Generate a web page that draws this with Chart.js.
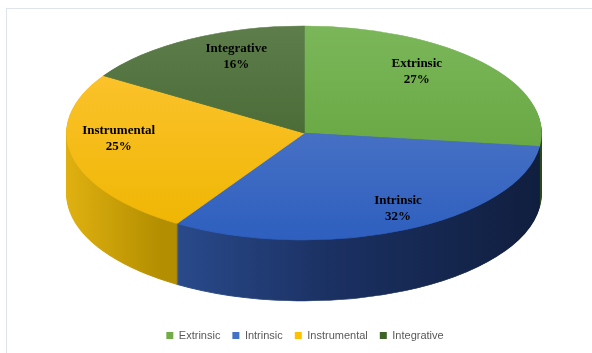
<!DOCTYPE html>
<html>
<head>
<meta charset="utf-8">
<script src="https://cdn.jsdelivr.net/npm/chart.js@4.4.1/dist/chart.umd.min.js"></script>
<style>
  html, body { margin: 0; padding: 0; background: #fff; }
  #wrap { position: relative; width: 592px; height: 353px; overflow: hidden; }
  #moldura { position: absolute; left: 6px; top: 8px; width: 640px; height: 400px;
    border-left: 1px solid #dfe4ea; border-top: 1px solid #dfe4ea; }
  canvas { position: absolute; left: 0; top: 0; }
</style>
</head>
<body>
<div id="wrap">
  <div id="moldura"></div>
  <canvas id="grafico" width="592" height="353"></canvas>
</div>
<script>
// Dados do gráfico
const categorias = ['Extrinsic', 'Intrinsic', 'Instrumental', 'Integrative'];
const valores = [27, 32, 25, 16];

// Cores (legenda, topo e lateral de cada fatia)
const coresBase = ['#70ad47', '#4472c4', '#ffc000', '#3e6327'];
const coresTopo = [
  ['#7bb75a', '#5b9d33'],
  ['#5d81c9', '#2e5fbf'],
  ['#ffc638', '#eeb500'],
  ['#5d7e4b', '#3a5a24']
];
const coresLado = [
  [[0, '#2f5220'], [1, '#2a4a1c']],
  [[0.15, '#2d5095'], [0.55, '#1b3163'], [1, '#101e3e']],
  [[0, '#dfb010'], [0.2, '#b38e00']],
  [[0, '#2e4a1e'], [1, '#2e4a1e']]
];

// Geometria da pizza 3D (elipse na tela)
const centroX = 304, centroY = 133, raioX = 237, raioY = 107, espessura = 61;
// posição dos rótulos (imita a perspectiva do original)
const rotuloY0 = 117, rotuloCima = 90, rotuloBaixo = 131;

const total = valores.reduce((a, b) => a + b, 0);

// Plugin que desenha os arcos do Chart.js achatados e com espessura
const pizza3D = {
  id: 'pizza3D',
  beforeDatasetsDraw(chart) {
    const ctx = chart.ctx;
    const arcos = chart.getDatasetMeta(0).data;
    if (!arcos.length) return false;
    const { x, y, outerRadius: r } = arcos[0].getProps(['x', 'y', 'outerRadius'], true);
    const sx = raioX / r, sy = raioY / r;

    const aplicar = (dy) => {
      ctx.translate(centroX, centroY + dy);
      ctx.scale(sx, sy);
      ctx.translate(-x, -y);
    };
    const desenhar = (arco, cor) => {
      const orig = arco.options;
      arco.options = Object.assign({}, orig, { backgroundColor: cor, borderColor: cor, borderWidth: 1 });
      arco.draw(ctx);
      arco.options = orig;
    };

    // lateral: várias cópias deslocadas para baixo
    const gradLado = coresLado.map(stops => {
      const g = ctx.createLinearGradient(x - r, 0, x + r, 0);
      stops.forEach(([o, c]) => g.addColorStop(o, c));
      return g;
    });
    for (let d = espessura; d > 0; d--) {
      ctx.save();
      aplicar(d);
      arcos.forEach((a, i) => desenhar(a, gradLado[i]));
      ctx.restore();
    }

    // topo
    ctx.save();
    aplicar(0);
    arcos.forEach((a, i) => {
      const g = ctx.createLinearGradient(0, y - r, 0, y + r);
      g.addColorStop(0, coresTopo[i][0]);
      g.addColorStop(1, coresTopo[i][1]);
      desenhar(a, g);
    });
    ctx.restore();

    // rótulos
    ctx.save();
    ctx.font = 'bold 13px "Liberation Serif", "Times New Roman", serif';
    ctx.fillStyle = '#000';
    ctx.textAlign = 'center';
    ctx.textBaseline = 'middle';
    arcos.forEach((a, i) => {
      const { startAngle, endAngle } = a.getProps(['startAngle', 'endAngle'], true);
      const meio = (startAngle + endAngle) / 2;
      const c = Math.cos(meio), s = Math.sin(meio);
      const px = centroX + c * raioX * 0.76 * (1 + 0.25 * s);
      const py = rotuloY0 + s * (s < 0 ? rotuloCima : rotuloBaixo) * 0.77;
      const pct = Math.round(valores[i] / total * 100) + '%';
      ctx.fillText(categorias[i], px, py - 8);
      ctx.fillText(pct, px, py + 8);
    });
    ctx.restore();
    return false;
  }
};

const ctx = document.getElementById('grafico').getContext('2d');
new Chart(ctx, {
  type: 'pie',
  data: {
    labels: categorias,
    datasets: [{
      data: valores,
      backgroundColor: coresBase,
      borderWidth: 0,
      clip: false
    }]
  },
  options: {
    responsive: false,
    animation: false,
    devicePixelRatio: 1,
    layout: { padding: { left: 18, bottom: 2 } },
    plugins: {
      legend: {
        position: 'bottom',
        labels: {
          boxWidth: 7,
          boxHeight: 7,
          padding: 12,
          color: '#595959',
          font: { family: '"Liberation Sans", Arial, sans-serif', size: 11 }
        }
      },
      tooltip: { enabled: false }
    }
  },
  plugins: [pizza3D]
});
</script>
</body>
</html>
